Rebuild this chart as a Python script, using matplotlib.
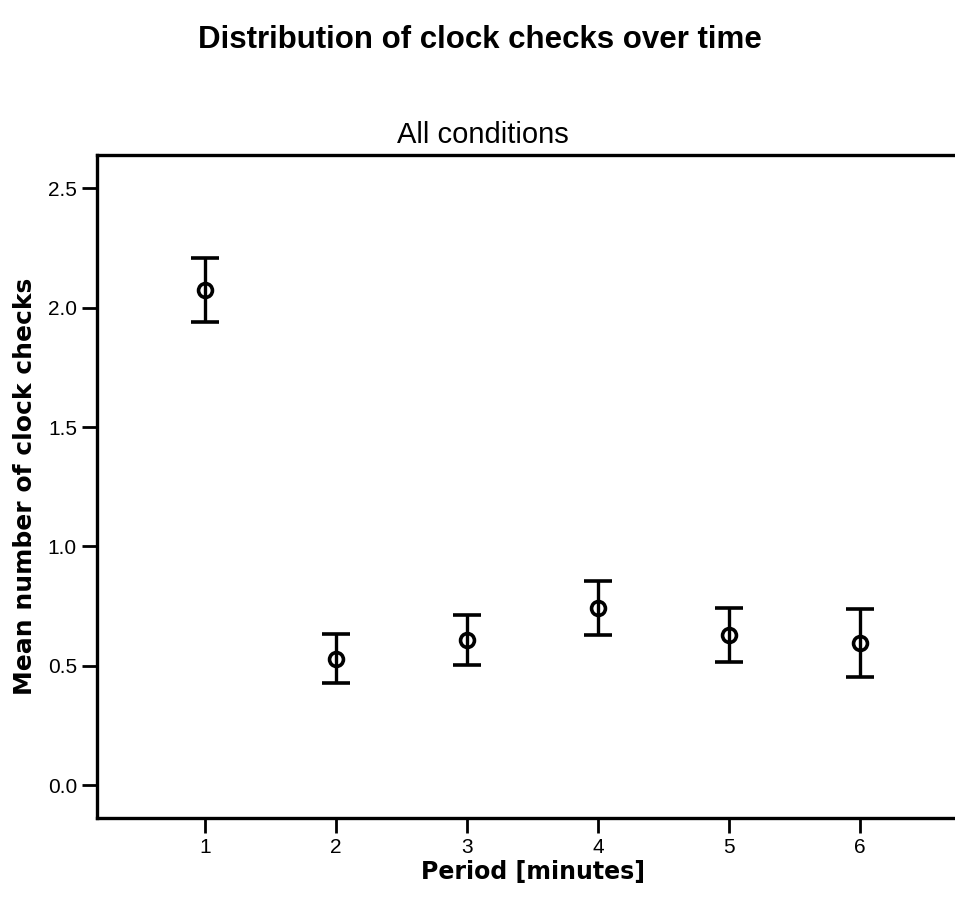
import numpy as np
import matplotlib.pyplot as plt

plt.rcParams['font.family'] = ['Liberation Sans', 'DejaVu Sans']

periods = [1, 2, 3, 4, 5, 6]
means = [2.075, 0.528, 0.608, 0.742, 0.629, 0.595]
upper = [2.21, 0.633, 0.712, 0.855, 0.742, 0.738]
lower = [1.94, 0.427, 0.503, 0.629, 0.516, 0.453]

yerr = np.array([np.subtract(means, lower), np.subtract(upper, means)])

fig = plt.figure(figsize=(9.55, 8.99), dpi=100)
# axes runs past the right edge, like the cropped original
ax = fig.add_axes([0.1016, 0.0901, 0.912, 0.7375])

ax.errorbar(periods, means, yerr=yerr, fmt='o', color='black',
            markerfacecolor='none', markeredgewidth=2.6, markersize=10,
            elinewidth=2.4, capsize=10, capthick=3.2)

ax.set_xlim(0.176, 6.824)
ax.set_ylim(-0.138, 2.64)
ax.set_xticks(periods)
ax.set_yticks([0.0, 0.5, 1.0, 1.5, 2.0, 2.5])
ax.set_yticklabels(["0.0", "0.5", "1.0", "1.5", "2.0", "2.5"])

for side in ['left', 'bottom', 'top', 'right']:
    ax.spines[side].set_linewidth(2.4)
ax.tick_params(axis='both', labelsize=15, width=2, length=10.5, pad=4, direction='out')

ax.set_xlabel("Period [minutes]", fontsize=17, fontweight='bold',
              family='DejaVu Sans', labelpad=2)
ax.set_ylabel("Mean number of clock checks", fontsize=18, fontweight='bold',
              family='DejaVu Sans', labelpad=8)
fig.text(0.506, 0.850, "All conditions", ha='center', va='center', fontsize=21)
fig.text(0.503, 0.955, "Distribution of clock checks over time",
         ha='center', va='center', fontsize=22.5, fontweight='bold')

fig.savefig("out.png", dpi=100)
